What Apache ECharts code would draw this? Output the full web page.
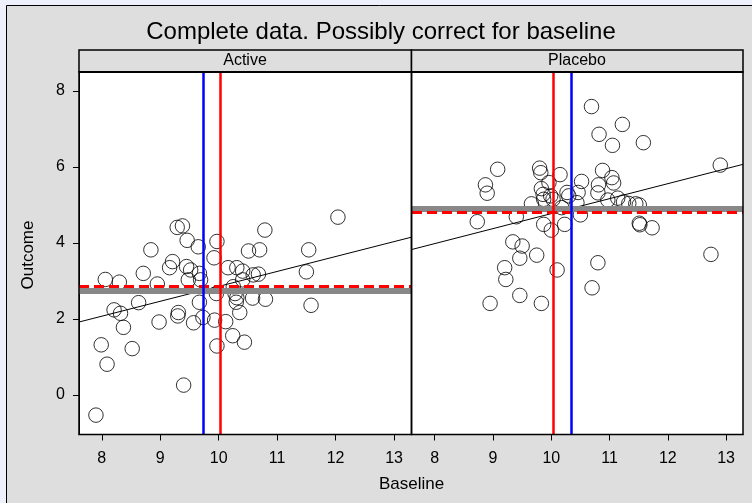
<!DOCTYPE html>
<html>
<head>
<meta charset="utf-8">
<script src="https://cdn.jsdelivr.net/npm/echarts@6/dist/echarts.min.js"></script>
<style>html,body{margin:0;padding:0;}#c{width:752px;height:503px;}</style>
</head>
<body>
<div id="c"></div>
<script>
// ---- data ----
const panels = ['Active', 'Placebo'];
const xTicks = [8, 9, 10, 11, 12, 13];
const yTicks = [0, 2, 4, 6, 8];

const activeX = [12.04,10.79,11.54,10.70,10.51,9.97,9.92,9.65,9.46,9.29,9.38,8.84,9.21,9.16,9.45,9.52,9.67,9.69,9.48,8.71,8.95,8.06,8.30,10.16,10.31,10.41,10.41,10.59,10.68,11.50,10.25,10.28,10.31,10.30,9.96,10.58,10.80,11.58,10.36,9.67,9.73,9.93,10.12,9.57,9.31,9.30,8.98,8.63,8.21,8.32,8.37,7.99,8.52,8.09,9.97,10.24,10.44,9.40,7.90];
const activeY = [4.68,4.34,3.82,3.82,3.79,4.04,3.61,3.90,4.07,4.41,4.45,3.82,3.51,3.35,3.38,3.29,3.20,3.03,3.03,3.20,2.92,3.04,2.97,3.35,3.35,3.26,3.03,3.16,3.18,3.24,2.85,2.67,2.56,2.44,2.67,2.55,2.52,2.36,2.17,2.44,2.04,1.97,1.93,1.90,2.17,2.08,1.92,2.43,2.24,2.15,1.78,1.32,1.22,0.81,1.29,1.56,1.39,0.26,-0.53];

const placeboX = [10.69,11.22,10.82,11.05,11.58,12.90,9.08,9.80,9.82,10.15,10.88,11.04,11.07,10.52,9.96,8.87,8.90,10.81,10.80,9.83,9.86,9.99,10.03,10.27,10.30,10.46,10.44,10.97,11.14,11.24,11.33,11.45,11.51,9.66,9.87,10.18,10.50,9.40,8.73,9.87,10.00,10.23,11.51,11.52,11.73,9.34,9.50,9.46,9.75,12.74,10.80,10.10,9.20,9.22,9.46,10.70,8.95,9.83];
const placeboY = [7.59,7.12,6.86,6.57,6.64,6.05,5.94,5.97,5.85,5.80,5.91,5.72,5.58,5.62,5.59,5.53,5.31,5.53,5.32,5.43,5.28,5.24,5.15,5.33,5.24,5.33,5.06,5.13,5.18,5.08,5.04,5.03,5.00,5.03,5.15,4.93,4.74,4.69,4.56,4.49,4.34,4.49,4.52,4.48,4.40,4.03,3.92,3.60,3.68,3.70,3.48,3.29,3.35,3.04,2.62,2.82,2.41,2.41];

// fitted line end points (baseline, outcome)
const activeFitX = [7.61, 13.29];
const activeFitY = [1.92, 4.15];
const placeboFitX = [7.61, 13.29];
const placeboFitY = [3.83, 6.07];

// reference lines
const rawMeanY = [2.74, 4.91];      // grey thick horizontal
const adjMeanY = [2.85, 4.80];      // red dashed horizontal
const groupMeanX = [9.73, 10.35];   // blue vertical
const overallMeanX = [10.03, 10.04];// red vertical

const xRange = [7.61, 13.29];
const yRange = [-1.04, 8.5];

// ---- chart ----
const FONT = 'Liberation Sans, Arial, sans-serif';
const pts = (xs, ys) => xs.map((x, i) => [x, ys[i]]);

const grids = [
  {left: 79, top: 72, width: 332, height: 362.5},
  {left: 412, top: 72, width: 331, height: 362.5}
];

const xAxes = [0, 1].map(i => ({
  type: 'value', gridIndex: i, min: xRange[0], max: xRange[1],
  axisLine: {show: true, onZero: false, lineStyle: {color: '#000', width: 1}},
  axisTick: {show: true, customValues: xTicks, length: 6, lineStyle: {color: '#000', width: 1}},
  axisLabel: {show: true, customValues: xTicks, color: '#000', fontSize: 16, fontFamily: FONT, margin: 16},
  splitLine: {show: false}
}));
const yAxes = [0, 1].map(i => ({
  type: 'value', gridIndex: i, min: yRange[0], max: yRange[1],
  axisLine: {show: i === 0, onZero: false, lineStyle: {color: '#000', width: 1}},
  axisTick: {show: i === 0, customValues: yTicks, length: 6, lineStyle: {color: '#000', width: 1}},
  axisLabel: {show: i === 0, customValues: yTicks, color: '#000', fontSize: 16, fontFamily: FONT, margin: 14},
  splitLine: {show: false}
}));

const data = [
  {x: activeX, y: activeY, fx: activeFitX, fy: activeFitY},
  {x: placeboX, y: placeboY, fx: placeboFitX, fy: placeboFitY}
];

const series = [];
data.forEach((d, i) => {
  series.push({
    type: 'scatter', xAxisIndex: i, yAxisIndex: i, data: pts(d.x, d.y),
    symbol: 'circle', symbolSize: 14.5, z: 2, silent: true,
    itemStyle: {color: 'rgba(0,0,0,0)', borderColor: '#000', borderWidth: 1}
  });
  series.push({
    type: 'line', xAxisIndex: i, yAxisIndex: i, data: pts(d.fx, d.fy),
    symbol: 'none', z: 3, silent: true,
    lineStyle: {color: '#000', width: 1}
  });
  series.push({
    type: 'line', xAxisIndex: i, yAxisIndex: i, data: [], z: 4, silent: true,
    markLine: {
      silent: true, symbol: 'none', label: {show: false}, animation: false,
      data: [
        {yAxis: rawMeanY[i], lineStyle: {color: '#888888', width: 6, type: 'solid'}},
        {yAxis: adjMeanY[i], lineStyle: {color: '#ff0000', width: 3, type: [10, 5]}},
        {xAxis: groupMeanX[i], lineStyle: {color: '#0000ff', width: 2.5, type: 'solid'}},
        {xAxis: overallMeanX[i], lineStyle: {color: '#ff0000', width: 2.5, type: 'solid'}}
      ]
    }
  });
});

const graphic = [
  {type: 'rect', z: -10, shape: {x: 6.5, y: 5.5, width: 800, height: 600},
   style: {fill: '#dedede', stroke: '#000', lineWidth: 1}},
  {type: 'rect', z: -5, shape: {x: 79, y: 72, width: 664, height: 362.5},
   style: {fill: '#ffffff'}},
  {type: 'rect', z: 10, shape: {x: 79, y: 50, width: 332.5, height: 22},
   style: {fill: '#dedede', stroke: '#000', lineWidth: 1.5}},
  {type: 'rect', z: 10, shape: {x: 411.5, y: 50, width: 331.5, height: 22},
   style: {fill: '#dedede', stroke: '#000', lineWidth: 1.5}},
  {type: 'line', z: 11, shape: {x1: 79, y1: 72, x2: 743, y2: 72}, style: {stroke: '#000', lineWidth: 2}},
  {type: 'rect', z: 11, shape: {x: 79, y: 72, width: 332.5, height: 362.5},
   style: {fill: null, stroke: '#000', lineWidth: 1.5}},
  {type: 'rect', z: 11, shape: {x: 411.5, y: 72, width: 331.5, height: 362.5},
   style: {fill: null, stroke: '#000', lineWidth: 1.5}},
  {type: 'text', z: 12, x: 245, y: 61, style: {text: panels[0], fill: '#000', font: '16px ' + FONT, textAlign: 'center', textVerticalAlign: 'middle'}},
  {type: 'text', z: 12, x: 577, y: 61, style: {text: panels[1], fill: '#000', font: '16px ' + FONT, textAlign: 'center', textVerticalAlign: 'middle'}},
  {type: 'text', z: 12, x: 411.5, y: 484, style: {text: 'Baseline', fill: '#000', font: '17px ' + FONT, textAlign: 'center', textVerticalAlign: 'middle'}},
  {type: 'text', z: 12, x: 28, y: 255, rotation: Math.PI / 2, style: {text: 'Outcome', fill: '#000', font: '17px ' + FONT, textAlign: 'center', textVerticalAlign: 'middle'}},
  {type: 'text', z: 12, x: 381, y: 32, style: {text: 'Complete data. Possibly correct for baseline', fill: '#000', font: '24px ' + FONT, textAlign: 'center', textVerticalAlign: 'middle'}}
];

const chart = echarts.init(document.getElementById('c'), null, {renderer: 'canvas'});
chart.setOption({
  backgroundColor: '#eef0fb',
  animation: false,
  grid: grids,
  xAxis: xAxes,
  yAxis: yAxes,
  series: series,
  graphic: graphic
});
</script>
</body>
</html>
